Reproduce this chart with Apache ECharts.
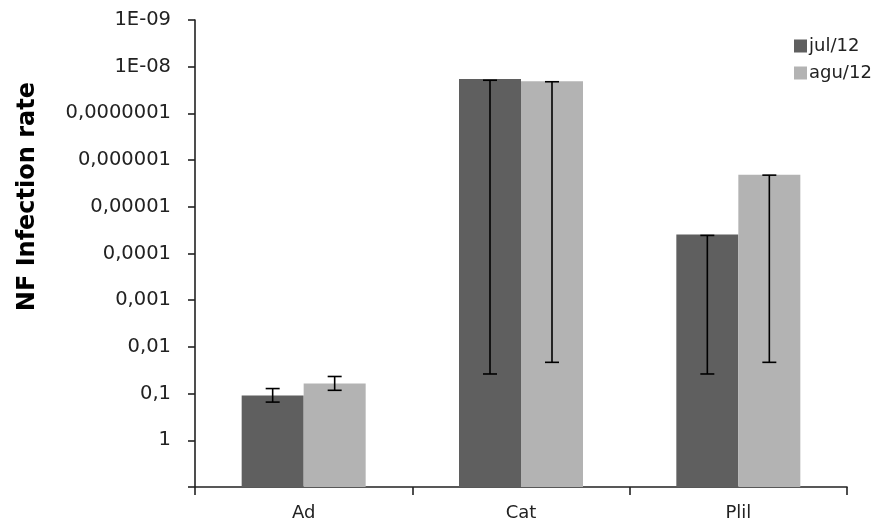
<!DOCTYPE html>
<html>
<head>
<meta charset="utf-8">
<script src="https://cdn.jsdelivr.net/npm/echarts@6/dist/echarts.min.js"></script>
<style>
  html, body { margin: 0; padding: 0; background: #fff; }
  #chart { width: 888px; height: 530px; }
</style>
</head>
<body>
<div id="chart"></div>
<script>
// Categories and series
const categories = ['Ad', 'Cat', 'Plil'];
const seriesNames = ['jul/12', 'agu/12'];

// Mean infection rate per category
const julValues = [0.11, 1.83e-8, 3.9e-5];
const aguValues = [0.061, 2.05e-8, 2.07e-6];

// Error bar ends (upper = smaller rate, drawn higher on the reversed axis)
const julErrUpper = [0.078, 1.95e-8, 4.1e-5];
const julErrLower = [0.152, 0.038, 0.038];
const aguErrUpper = [0.043, 2.1e-8, 2.1e-6];
const aguErrLower = [0.085, 0.0214, 0.0214];

// Tick labels indexed by the negative decade exponent (10^0 .. 10^-9)
const yTickLabels = ['1', '0,1', '0,01', '0,001', '0,0001', '0,00001',
  '0,000001', '0,0000001', '1E-08', '1E-09'];

const BAR_W = 62;
const CAP_W = 14;
const FONT = '"DejaVu Sans", sans-serif';

function errorData(upper, lower) {
  return categories.map((c, i) => [i, upper[i], lower[i]]);
}

function errorSeries(name, upper, lower, offset) {
  return {
    type: 'custom',
    name: name + ' error',
    data: errorData(upper, lower),
    encode: { x: 0, y: [1, 2] },
    z: 5,
    silent: true,
    renderItem: function (params, api) {
      const a = api.coord([api.value(0), api.value(1)]);
      const b = api.coord([api.value(0), api.value(2)]);
      const x = a[0] + offset;
      const style = { stroke: '#000', lineWidth: 1.6 };
      return {
        type: 'group',
        children: [
          { type: 'line', shape: { x1: x, y1: a[1], x2: x, y2: b[1] }, style: style },
          { type: 'line', shape: { x1: x - CAP_W / 2, y1: a[1], x2: x + CAP_W / 2, y2: a[1] }, style: style },
          { type: 'line', shape: { x1: x - CAP_W / 2, y1: b[1], x2: x + CAP_W / 2, y2: b[1] }, style: style }
        ]
      };
    }
  };
}

const chart = echarts.init(document.getElementById('chart'), null, { renderer: 'canvas' });

chart.setOption({
  animation: false,
  backgroundColor: '#fff',
  grid: { left: 195, right: 41, top: 20, bottom: 43, containLabel: false },
  legend: {
    data: seriesNames,
    orient: 'vertical',
    left: 789,
    top: 32,
    itemWidth: 13,
    itemHeight: 13,
    itemGap: 9,
    icon: 'rect',
    textStyle: { fontFamily: FONT, fontSize: 18, color: '#222', padding: [0, 0, 0, -3] }
  },
  graphic: [{
    type: 'text',
    left: 16,
    top: 82,
    rotation: Math.PI / 2,
    style: {
      text: 'NF Infection rate',
      fontFamily: FONT,
      fontWeight: 'bold',
      fontSize: 24,
      fill: '#000'
    }
  }],
  xAxis: {
    type: 'category',
    data: categories,
    axisLine: { lineStyle: { color: '#222', width: 1.6 } },
    axisTick: { show: true, length: 8, lineStyle: { color: '#222', width: 1.6 } },
    axisLabel: { fontFamily: FONT, fontSize: 18, color: '#222', margin: 17 },
    splitLine: { show: false }
  },
  yAxis: {
    type: 'log',
    logBase: 10,
    min: 1e-9,
    max: 10,
    startValue: 10,
    inverse: true,
    splitNumber: 10,
    axisLine: { show: true, lineStyle: { color: '#222', width: 1.6 } },
    axisTick: { show: true, length: 7, lineStyle: { color: '#222', width: 1.6 } },
    splitLine: { show: false },
    minorTick: { show: false },
    axisLabel: {
      fontFamily: FONT,
      fontSize: 19.5,
      color: '#222',
      margin: 24,
      formatter: function (v) {
        const e = Math.round(Math.log10(v));
        if (e > 0) return '';
        return yTickLabels[-e] || '';
      }
    }
  },
  series: [
    {
      name: seriesNames[0],
      type: 'bar',
      data: julValues,
      barWidth: BAR_W,
      barGap: '0%',
      itemStyle: { color: '#5f5f5f' }
    },
    {
      name: seriesNames[1],
      type: 'bar',
      data: aguValues,
      barWidth: BAR_W,
      barGap: '0%',
      itemStyle: { color: '#b3b3b3' }
    },
    errorSeries(seriesNames[0], julErrUpper, julErrLower, -BAR_W / 2),
    errorSeries(seriesNames[1], aguErrUpper, aguErrLower, BAR_W / 2)
  ]
});
</script>
</body>
</html>
